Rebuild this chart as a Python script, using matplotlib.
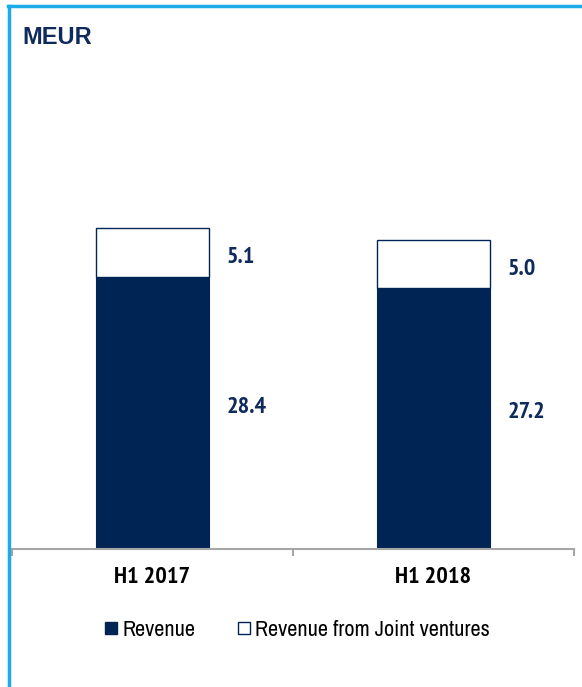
import os
import matplotlib
matplotlib.use("Agg")
import matplotlib.pyplot as plt
from matplotlib import font_manager as fm
from matplotlib.lines import Line2D

periods = ["H1 2017", "H1 2018"]
revenue = [28.4, 27.2]
jv_revenue = [5.1, 5.0]
legend_labels = ["Revenue", "Revenue from Joint ventures"]

NAVY = "#002554"
TEXT_NAVY = "#0f2a5c"
BORDER = "#1AACE6"
AXIS_GREY = "#a6a6a6"


def narrow_face(want_bold):
    # the chart uses an Arial Narrow like face; pick the closest installed one
    best, best_score = None, -1
    for f in fm.fontManager.ttflist:
        base = os.path.basename(f.fname).lower()
        if "mono" in base or "serif" in base or "italic" in base or "oblique" in base:
            continue
        if "narrow" in base:
            score = 10
        elif "condensed" in base and not any(k in base for k in ("semicondensed", "extracondensed", "ultracondensed")):
            score = 6
        else:
            continue
        b = base.replace("condensed", "")
        is_bold = "bold" in b and not any(k in b for k in ("semibold", "extrabold", "demibold", "ultrabold"))
        is_reg = not any(k in b for k in ("bold", "light", "thin", "black", "medium", "heavy"))
        if want_bold and not is_bold:
            continue
        if not want_bold and not is_reg:
            continue
        if "liberation" in base or "arial" in base:
            score += 3
        elif "noto" in base:
            score += 2
        if score > best_score:
            best, best_score = f.fname, score
    return best


narrow_bold = narrow_face(True)
narrow_reg = narrow_face(False)

if narrow_bold and narrow_reg:
    bold_fp = lambda s: fm.FontProperties(fname=narrow_bold, size=s)
    reg_fp = lambda s: fm.FontProperties(fname=narrow_reg, size=s)
    VAL_SIZE, CAT_SIZE, LEG_SIZE = 17.5, 17.5, 16
else:
    bold_fp = lambda s: fm.FontProperties(family="Liberation Sans", weight="bold", size=s)
    reg_fp = lambda s: fm.FontProperties(family="Liberation Sans", size=s)
    VAL_SIZE, CAT_SIZE, LEG_SIZE = 15, 15, 13

fig = plt.figure(figsize=(5.82, 6.87), dpi=100)
W, H = 582, 687

# axes placed in pixel terms: x 12..574, baseline at y=549
ax = fig.add_axes([12 / W, 1 - 549 / H, (574 - 12) / W, (549 - 60) / H])

x = range(len(periods))
ax.bar(x, revenue, width=0.40, color=NAVY, edgecolor=NAVY, linewidth=0.8, zorder=2)
ax.bar(x, jv_revenue, width=0.40, bottom=revenue, color="white",
       edgecolor=NAVY, linewidth=1.0, zorder=2)

for i in x:
    ax.text(i + 0.264, revenue[i] / 2 + 0.6, f"{revenue[i]:.1f}", ha="left", va="center",
            fontproperties=bold_fp(VAL_SIZE), color=TEXT_NAVY)
    ax.text(i + 0.264, revenue[i] + jv_revenue[i] / 2 - 0.5, f"{jv_revenue[i]:.1f}",
            ha="left", va="center", fontproperties=bold_fp(VAL_SIZE), color=TEXT_NAVY)

ax.set_xlim(-0.5, 1.5)
ax.set_ylim(0, 51)
for s in ["top", "right", "left"]:
    ax.spines[s].set_visible(False)
ax.spines["bottom"].set_color(AXIS_GREY)
ax.spines["bottom"].set_linewidth(1.5)
ax.set_yticks([])
ax.set_xticks([-0.5, 0.5, 1.5])
ax.set_xticklabels([])
ax.tick_params(axis="x", direction="out", length=5, color=AXIS_GREY, width=1.5)
for i, p in zip(x, periods):
    ax.text(i, -3.0, p, ha="center", va="center", fontproperties=bold_fp(CAT_SIZE),
            color="black")

# legend
handles = [
    Line2D([], [], marker="s", linestyle="none", markersize=9,
           markerfacecolor=NAVY, markeredgecolor=NAVY),
    Line2D([], [], marker="s", linestyle="none", markersize=8,
           markerfacecolor="white", markeredgecolor=NAVY, markeredgewidth=1),
]
fig.legend(handles, legend_labels, loc="center",
           bbox_to_anchor=(297 / W, 1 - 630 / H), ncol=2, frameon=False,
           prop=reg_fp(LEG_SIZE), handlelength=0.6, handletextpad=0.2,
           columnspacing=1.9)

fig.text(22 / W, 1 - 38 / H, "MEUR", ha="left", va="center", fontsize=17,
         fontweight="bold", color=TEXT_NAVY, family=["Liberation Sans", "DejaVu Sans"])

# light blue frame on top and left
fig.add_artist(Line2D([8.5 / W, 8.5 / W], [0, 1 - 6 / H], color=BORDER, linewidth=2.5,
                      transform=fig.transFigure))
fig.add_artist(Line2D([7.5 / W, 1], [1 - 6 / H, 1 - 6 / H], color=BORDER, linewidth=2.5,
                      transform=fig.transFigure))

fig.savefig("out.png", dpi=100)
